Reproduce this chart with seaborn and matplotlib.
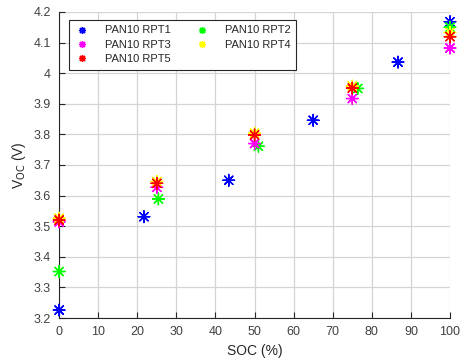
import matplotlib
matplotlib.use("Agg")
import matplotlib.pyplot as plt
import numpy as np
import pandas as pd
import seaborn as sns

# data
soc_rpt1 = [0, 21.7, 43.4, 65.0, 86.7, 100]
v_rpt1 = [3.226, 3.531, 3.650, 3.846, 4.036, 4.168]
soc_rpt2 = [0, 25.4, 51.0, 76.4, 100]
v_rpt2 = [3.352, 3.589, 3.761, 3.950, 4.150]
soc_rpt3 = [0, 25.0, 50.0, 75.0, 100]
v_rpt3 = [3.514, 3.627, 3.770, 3.917, 4.082]
soc_rpt4 = [0, 25.0, 50.0, 75.0, 100]
v_rpt4 = [3.526, 3.646, 3.804, 3.958, 4.133]
soc_rpt5 = [0, 25.0, 50.0, 75.0, 100]
v_rpt5 = [3.520, 3.640, 3.798, 3.951, 4.119]

names = ["PAN10 RPT1", "PAN10 RPT2", "PAN10 RPT3", "PAN10 RPT4", "PAN10 RPT5"]
colors = ["#0000ff", "#00ff00", "#ff00ff", "#ffff00", "#ff0000"]

frames = []
for n, s, v in zip(names, [soc_rpt1, soc_rpt2, soc_rpt3, soc_rpt4, soc_rpt5],
                   [v_rpt1, v_rpt2, v_rpt3, v_rpt4, v_rpt5]):
    frames.append(pd.DataFrame({"SOC": s, "V": v, "series": n}))
df = pd.concat(frames, ignore_index=True)

sns.set_style("white")
plt.rcParams["font.family"] = ["Liberation Sans", "DejaVu Sans"]

fig = plt.figure(figsize=(4.62, 3.61), dpi=100)
ax = fig.add_axes([0.128, 0.119, 0.846, 0.848])

asterisk = (8, 2, 0)
sns.scatterplot(data=df, x="SOC", y="V", hue="series", hue_order=names,
                palette=colors, marker=asterisk, s=70, linewidth=1.0,
                ax=ax, legend=True, clip_on=False, zorder=3)

ax.set_xlim(0, 100)
ax.set_ylim(3.2, 4.2)
ax.set_xticks(np.arange(0, 101, 10))
ax.set_yticks(np.arange(3.2, 4.21, 0.1))
ax.set_yticklabels(["3.2", "3.3", "3.4", "3.5", "3.6", "3.7", "3.8", "3.9", "4", "4.1", "4.2"])
ax.grid(True, color="#d4d4d4", linewidth=0.9)
ax.set_axisbelow(True)
for side in ["top", "right"]:
    ax.spines[side].set_visible(False)
for side in ["left", "bottom"]:
    ax.spines[side].set_color("#262626")
    ax.spines[side].set_linewidth(0.8)
ax.tick_params(axis="both", direction="in", length=4, width=0.8,
               labelsize=9, colors="#262626", left=True, bottom=True, pad=6)
ax.tick_params(axis="both", labelcolor="#404040")
ax.set_xlabel("SOC (%)", fontsize=10, color="#262626")
ax.set_ylabel("V$_{\\rm OC}$ (V)", fontsize=10, color="#262626")

# MATLAB style legend: filled row-wise
handles, labels = ax.get_legend_handles_labels()
order = [0, 2, 4, 1, 3]
leg = ax.legend([handles[i] for i in order], [labels[i] for i in order],
                ncol=2, loc="upper left", bbox_to_anchor=(0.026, 0.974),
                borderaxespad=0, fontsize=8, frameon=True, fancybox=False,
                framealpha=1, edgecolor="#262626", handlelength=1.2,
                columnspacing=2.2, handletextpad=1.5, borderpad=0.5,
                labelspacing=0.4)
leg.get_frame().set_linewidth(0.8)
for h in leg.legend_handles:
    h.set_markersize(5)

fig.savefig("out.png", dpi=100)
